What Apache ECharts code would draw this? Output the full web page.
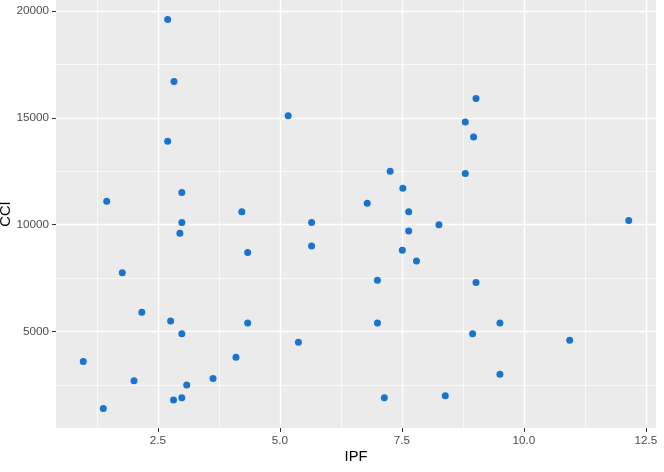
<!DOCTYPE html>
<html>
<head>
<meta charset="utf-8">
<script src="https://cdn.jsdelivr.net/npm/echarts@6/dist/echarts.min.js"></script>
<style>html,body{margin:0;padding:0;background:#fff}#c{width:664px;height:472px}</style>
</head>
<body>
<div id="c"></div>
<script>
const ipf = [2.70,2.83,2.70,5.17,1.45,2.99,2.99,2.95,4.22,4.34,5.65,5.65,1.77,2.17,2.76,2.99,0.97,2.01,3.09,2.82,2.99,1.38,3.63,4.10,4.34,5.38,6.79,7.26,7.52,7.64,7.64,7.51,7.80,7.00,7.00,7.14,8.39,8.26,8.80,8.97,9.02,8.80,9.02,8.95,9.51,9.51,10.94,12.15];
const cci = [19600,16700,13900,15100,11100,11500,10100,9600,10600,8700,10100,9000,7750,5900,5500,4900,3600,2700,2500,1800,1900,1400,2800,3800,5400,4500,11000,12500,11700,10600,9700,8800,8300,7400,5400,1900,2000,10000,14800,14100,15900,12400,7300,4900,5400,3000,4600,10200];
const xTicks = [2.5,5.0,7.5,10.0,12.5];
const xMinor = [1.25,3.75,6.25,8.75,11.25];
const yTicks = [5000,10000,15000,20000];
const yMinor = [2500,7500,12500,17500];
const xTitle = 'IPF', yTitle = 'CCI';

function expand(arr){const mn=Math.min(...arr),mx=Math.max(...arr),d=(mx-mn)*0.05;return [mn-d,mx+d];}
const [xmin,xmax] = expand(ipf);
const [ymin,ymax] = expand(cci);
const font = 'Liberation Sans, Arial, sans-serif';
const chart = echarts.init(document.getElementById('c'), null, {renderer:'canvas'});

const gridLines = (vals, key, width) => vals.map(v => ({[key]: v, lineStyle:{color:'#fff', width:width, type:'solid'}}));

chart.setOption({
  animation:false,
  grid:{left:56,right:8,top:0,bottom:44,show:true,backgroundColor:'#EBEBEB',borderWidth:0,containLabel:false,outerBoundsMode:'none'},
  xAxis:{type:'value',min:xmin,max:xmax,position:'bottom',
     axisLine:{show:false},
     axisTick:{show:true,length:4,customValues:xTicks,lineStyle:{color:'#333',width:1}},
     axisLabel:{show:true,customValues:xTicks,margin:7,color:'#4D4D4D',fontFamily:font,fontSize:11.7,
       formatter:v=>v.toFixed(1)},
     splitLine:{show:false},
     name:xTitle,nameLocation:'middle',nameGap:21,nameMoveOverlap:false,nameTextStyle:{color:'#000',fontFamily:font,fontSize:14.7}},
  yAxis:{type:'value',min:ymin,max:ymax,position:'left',
     axisLine:{show:false},
     axisTick:{show:true,length:4,customValues:yTicks,lineStyle:{color:'#333',width:1}},
     axisLabel:{show:true,customValues:yTicks,margin:7,color:'#4D4D4D',fontFamily:font,fontSize:11.7,
       formatter:v=>String(Math.round(v))},
     splitLine:{show:false},
     name:yTitle,nameLocation:'middle',nameGap:43,nameRotate:90,nameMoveOverlap:false,nameTextStyle:{color:'#000',fontFamily:font,fontSize:14.7}},
  series:[
    {type:'scatter',data:[],z:1,silent:true,
     markLine:{silent:true,symbol:['none','none'],label:{show:false},animation:false,
       data:[].concat(gridLines(xMinor,'xAxis',0.7),gridLines(yMinor,'yAxis',0.7),
                      gridLines(xTicks,'xAxis',1.4),gridLines(yTicks,'yAxis',1.4))}},
    {type:'scatter',zlevel:1,z:3,symbolSize:7,
     itemStyle:{color:'#1874CD',opacity:1},
     data:ipf.map((x,i)=>[x,cci[i]])}
  ]
});
</script>
</body>
</html>
